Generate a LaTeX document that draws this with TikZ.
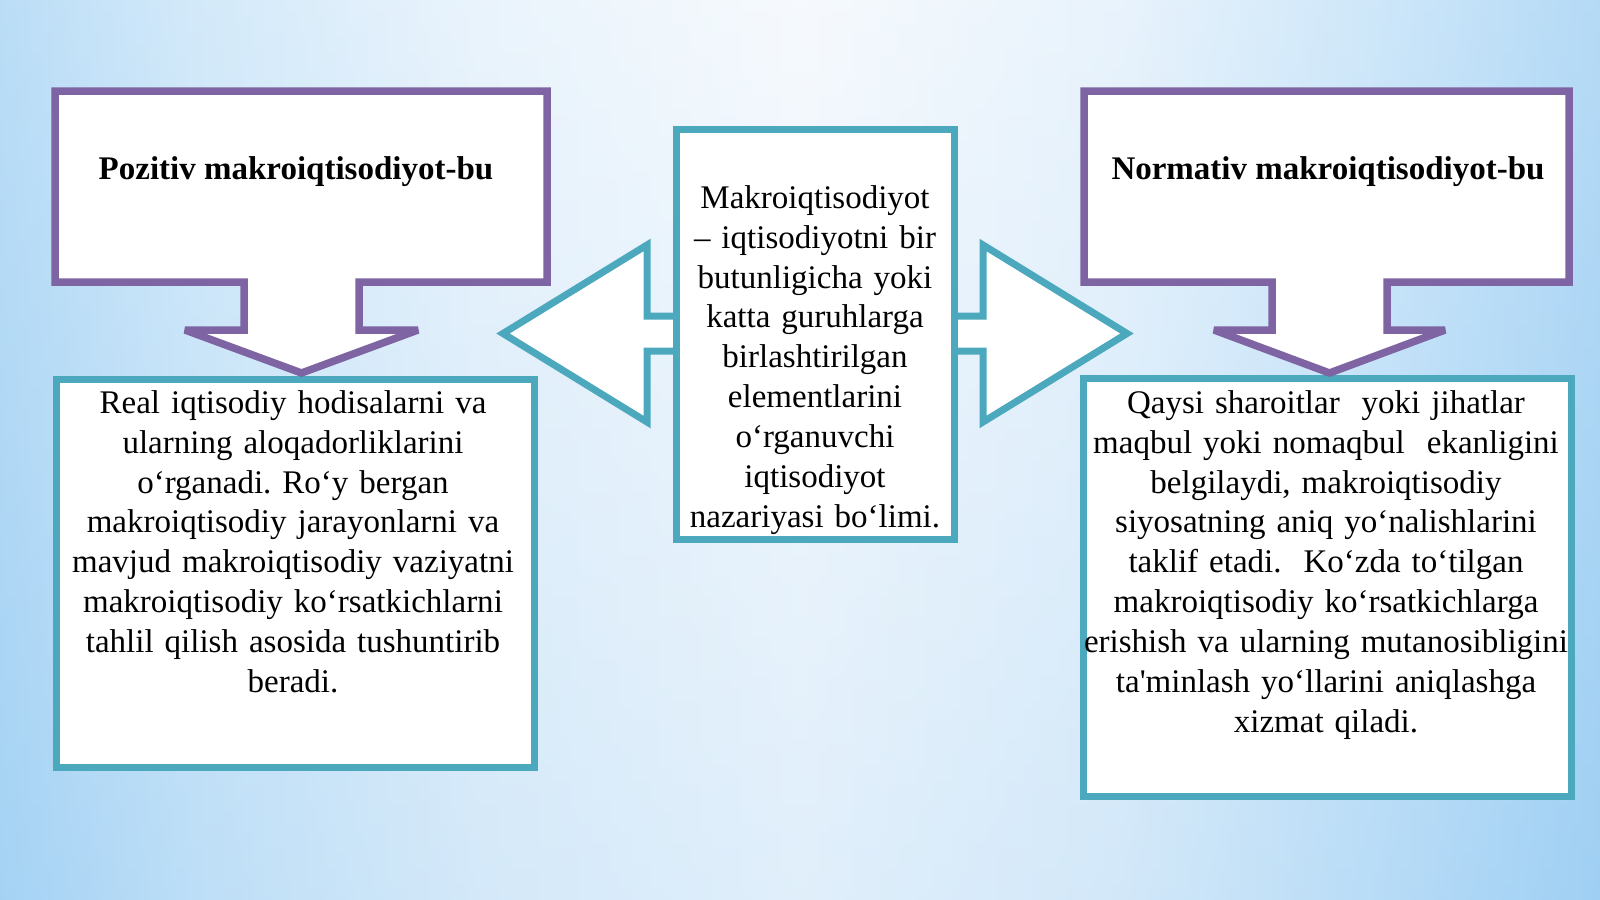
\documentclass[tikz,border=0pt]{standalone}
\usepackage{fontspec}
\setmainfont{Liberation Serif}[Ligatures=TeXOff]
\definecolor{purp}{HTML}{7E64A2}
\definecolor{tealc}{HTML}{4BA8BD}
\definecolor{bh0}{HTML}{A4D2F4}
\definecolor{bh1}{HTML}{C4E2F8}
\definecolor{bh2}{HTML}{E3F0FB}
\definecolor{bh3}{HTML}{F3F8FD}
\definecolor{bh4}{HTML}{E1EFFB}
\definecolor{bh5}{HTML}{BEDFF8}
\definecolor{bh6}{HTML}{9CCEF3}
\definecolor{bgbot}{HTML}{A8D4F5}
% the path spans 25bp..75bp of the shading
\pgfdeclarehorizontalshading{bgh}{100bp}{color(0bp)=(bh0); color(25bp)=(bh0); color(31bp)=(bh1); color(40bp)=(bh2); color(50bp)=(bh3); color(60bp)=(bh4); color(68bp)=(bh5); color(75bp)=(bh6); color(100bp)=(bh6)}
\begin{document}
\begin{tikzpicture}[x=1bp,y=-1bp,
  callout/.style={draw=purp, line width=7.5bp, fill=white, line join=miter, miter limit=1.6},
  tealbox/.style={draw=tealc, line width=7bp, fill=white, line join=miter},
  bodytext/.style={font=\fontsize{33bp}{39.9bp}\selectfont\frenchspacing, align=center, inner sep=0pt, anchor=north},
  titletext/.style={font=\fontsize{33bp}{39.9bp}\selectfont\bfseries, inner sep=0pt, anchor=base}]
\useasboundingbox (0,0) rectangle (1600,899);
\shade[shading=bgh] (0,0) rectangle (1600,899);
\shade[top color=white, bottom color=bgbot, opacity=0.25] (0,0) rectangle (1600,899);
% lower teal boxes
\draw[tealbox] (56,379) rectangle (534,767);
\draw[tealbox] (1083,378) rectangle (1571,796);
% double arrow behind the central box
\draw[tealbox] (503,333.5) -- (647,245) -- (647,316) -- (983,316) -- (983,245)
  -- (1127,333.5) -- (983,422) -- (983,351) -- (647,351) -- (647,422) -- cycle;
\draw[tealbox] (676,129) rectangle (954,539);
% purple callouts
\draw[callout] (55,91) -- (547,91) -- (547,282) -- (359,282) -- (359,330) -- (418,330)
  -- (301.5,373) -- (185,330) -- (244,330) -- (244,282) -- (55,282) -- cycle;
\draw[callout] (1084,91) -- (1569,91) -- (1569,282) -- (1387,282) -- (1387,330) -- (1445,330)
  -- (1329.5,373) -- (1214,330) -- (1272,330) -- (1272,282) -- (1084,282) -- cycle;
% texts
\node[titletext] (ltitle) at (296,179) {Pozitiv makroiqtisodiyot-bu};
\node[titletext] (rtitle) at (1328,179) {Normativ makroiqtisodiyot-bu};
\node[bodytext, text width=300bp] (ctext) at (815,180.07) {\strut Makroiqtisodiyot\\
– iqtisodiyotni bir\\
butunligicha yoki\\
katta guruhlarga\\
birlashtirilgan\\
elementlarini\\
o‘rganuvchi\\
iqtisodiyot\\
nazariyasi bo‘limi.};
\node[bodytext, text width=480bp] (ltext) at (293,385.07) {\strut Real iqtisodiy hodisalarni va\\
ularning aloqadorliklarini\\
o‘rganadi. Ro‘y bergan\\
makroiqtisodiy jarayonlarni va\\
mavjud makroiqtisodiy vaziyatni\\
makroiqtisodiy ko‘rsatkichlarni\\
tahlil qilish asosida tushuntirib\\
beradi.};
\node[bodytext, text width=540bp] (rtext) at (1326,385.07) {\strut Qaysi sharoitlar\ \ yoki jihatlar\\
maqbul yoki nomaqbul\ \ ekanligini\\
belgilaydi, makroiqtisodiy\\
siyosatning aniq yo‘nalishlarini\\
taklif etadi.\ \ Ko‘zda to‘tilgan\\
makroiqtisodiy ko‘rsatkichlarga\\
erishish va ularning mutanosibligini\\
ta'minlash yo‘llarini aniqlashga\\
xizmat qiladi.};
\end{tikzpicture}
\end{document}
